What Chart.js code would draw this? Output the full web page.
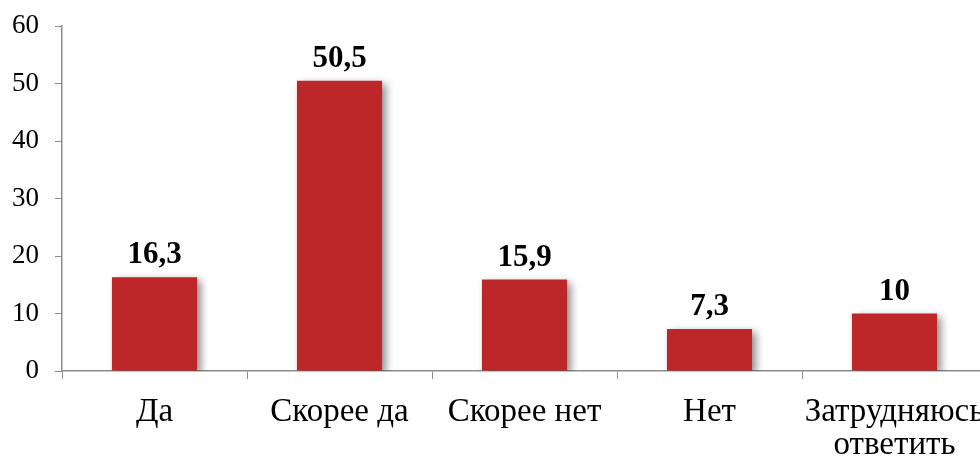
<!DOCTYPE html>
<html>
<head>
<meta charset="utf-8">
<script src="https://cdn.jsdelivr.net/npm/chart.js@4"></script>
<style>
  html, body { margin: 0; padding: 0; background: #fff; overflow: hidden; }
  #wrap { width: 1000px; height: 460px; }
</style>
</head>
<body>
<div id="wrap"><canvas id="grafico" width="1000" height="460"></canvas></div>
<script>
// Datos del gráfico
const categorias = ['Да', 'Скорее да', 'Скорее нет', 'Нет', ['Затрудняюсь', 'ответить']];
const valores = [16.3, 50.5, 15.9, 7.3, 10];
const etiquetas = ['16,3', '50,5', '15,9', '7,3', '10'];

// Sombra de las barras
const sombraPlugin = {
    id: 'sombra',
    beforeDatasetsDraw(chart) {
        const ctx = chart.ctx;
        ctx.save();
        ctx.shadowColor = 'rgba(0, 0, 0, 0.45)';
        ctx.shadowBlur = 8;
        ctx.shadowOffsetX = 4;
        ctx.shadowOffsetY = 3;
    },
    afterDatasetsDraw(chart) {
        chart.ctx.restore();
    }
};

// Etiquetas sobre las barras
const etiquetasPlugin = {
    id: 'etiquetas',
    afterDatasetsDraw(chart) {
        const ctx = chart.ctx;
        const meta = chart.getDatasetMeta(0);
        ctx.save();
        ctx.font = 'bold 31px "Liberation Serif", serif';
        ctx.fillStyle = '#000';
        ctx.textAlign = 'center';
        ctx.textBaseline = 'alphabetic';
        meta.data.forEach((bar, i) => {
            ctx.fillText(etiquetas[i], bar.x, bar.y - 14);
        });
        ctx.restore();
    }
};

const ctx = document.getElementById('grafico').getContext('2d');
new Chart(ctx, {
    type: 'bar',
    data: {
        labels: categorias,
        datasets: [{
            data: valores,
            backgroundColor: '#BE2729',
            borderWidth: 0,
            barPercentage: 0.92,
            categoryPercentage: 0.5
        }]
    },
    options: {
        responsive: false,
        animation: false,
        layout: { padding: { left: 0, right: 13, top: 26, bottom: 0 } },
        plugins: {
            legend: { display: false },
            tooltip: { enabled: false }
        },
        scales: {
            x: {
                afterFit: (scale) => {
                    scale.height = 89;
                    scale.paddingLeft = 0;
                    scale.paddingRight = 0;
                },
                grid: {
                    drawOnChartArea: false,
                    color: '#8c8c8c',
                    tickLength: 8,
                    offset: true
                },
                border: { color: '#8c8c8c', width: 1.5 },
                ticks: {
                    color: '#000',
                    font: { family: '"Liberation Serif", serif', size: 33, lineHeight: 1.0 },
                    padding: 17,
                    maxRotation: 0,
                    autoSkip: false
                }
            },
            y: {
                min: 0,
                max: 60,
                afterFit: (scale) => {
                    scale.width = 62;
                    scale.paddingTop = 0;
                    scale.paddingBottom = 0;
                },
                grid: {
                    drawOnChartArea: false,
                    color: '#8c8c8c',
                    tickLength: 7
                },
                border: { color: '#8c8c8c', width: 1.5 },
                ticks: {
                    stepSize: 10,
                    color: '#000',
                    font: { family: '"Liberation Serif", serif', size: 27 },
                    padding: 16
                }
            }
        }
    },
    plugins: [sombraPlugin, etiquetasPlugin]
});
</script>
</body>
</html>
